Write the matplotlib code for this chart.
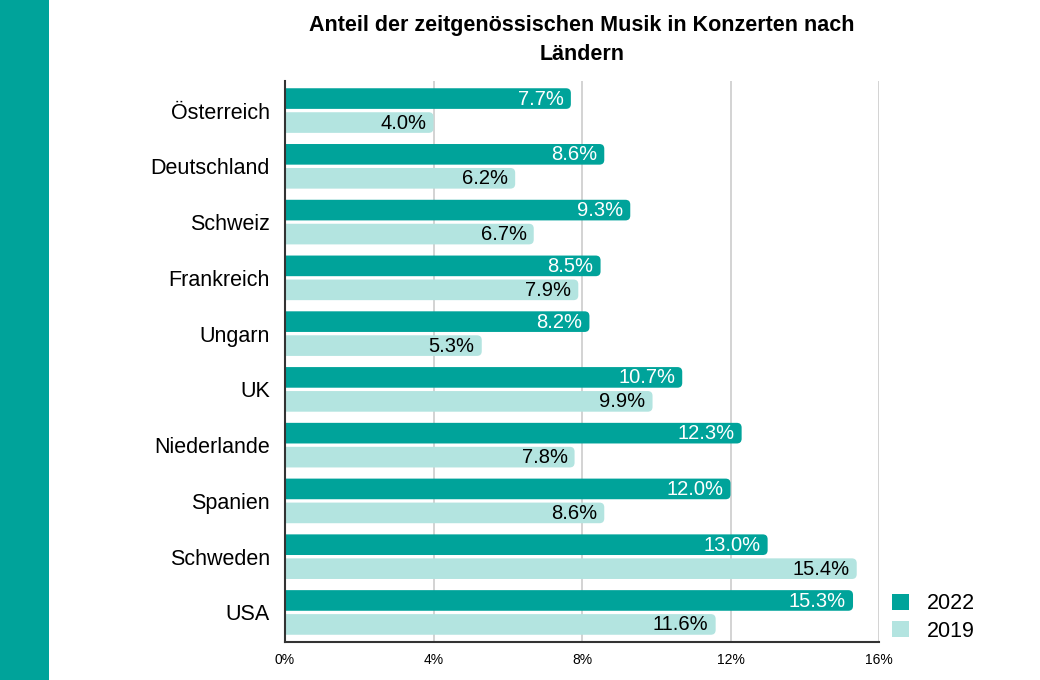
import matplotlib.pyplot as plt
from matplotlib.patches import FancyBboxPatch, Rectangle

plt.rcParams['font.family'] = ['Liberation Sans', 'DejaVu Sans']

# Daten
laender = ["Österreich", "Deutschland", "Schweiz", "Frankreich", "Ungarn",
           "UK", "Niederlande", "Spanien", "Schweden", "USA"]
werte_2022 = [7.7, 8.6, 9.3, 8.5, 8.2, 10.7, 12.3, 12.0, 13.0, 15.3]
werte_2019 = [4.0, 6.2, 6.7, 7.9, 5.3, 9.9, 7.8, 8.6, 15.4, 11.6]
x_ticks = [0, 4, 8, 12, 16]

farbe_2022 = "#00A39A"
farbe_2019 = "#B3E4E0"

fig = plt.figure(figsize=(10.4, 6.8), dpi=100)
fig.patches.append(Rectangle((0, 0), 49 / 1040, 1, transform=fig.transFigure,
                             facecolor=farbe_2022, edgecolor="none", zorder=0))

ax = fig.add_axes([285 / 1040, 38 / 680, 594 / 1040, 561 / 680])
ax.set_xlim(0, 16)
ax.set_ylim(9.53, -0.53)

hoehe = 0.37
versatz = 0.215
# px pro Einheit: x 37.1, y 55.8
aspect = 37.1 / 55.8


def balken(y, wert, farbe, textfarbe):
    p = FancyBboxPatch((-1, y - hoehe / 2), wert + 1, hoehe,
                       boxstyle="round,pad=0,rounding_size=0.13",
                       mutation_aspect=aspect,
                       facecolor=farbe, edgecolor="none", zorder=2)
    ax.add_patch(p)
    ax.text(wert - 0.19, y + 0.01, f"{wert:.1f}%", ha="right", va="center",
            color=textfarbe, fontsize=14.5, zorder=3)


for i in range(len(laender)):
    balken(i - versatz, werte_2022[i], farbe_2022, "white")
    balken(i + versatz, werte_2019[i], farbe_2019, "black")

ax.set_yticks(range(len(laender)))
ax.set_yticklabels(laender, fontsize=15.5)
ax.set_xticks(x_ticks)
ax.set_xticklabels([f"{t}%" for t in x_ticks], fontsize=10)
ax.tick_params(axis="y", length=0, pad=11)
ax.tick_params(axis="x", length=0, pad=8)
for lbl in ax.get_yticklabels():
    lbl.set_y(lbl.get_position()[1])

ax.grid(axis="x", color="#cccccc", linewidth=1.2, zorder=0)
ax.set_axisbelow(True)
for s in ["top", "right"]:
    ax.spines[s].set_visible(False)
ax.spines["left"].set_color("#333333")
ax.spines["left"].set_linewidth(1.5)
ax.spines["bottom"].set_color("#333333")
ax.spines["bottom"].set_linewidth(1.5)

fig.text(582 / 1040, 1 - 40 / 680,
         "Anteil der zeitgenössischen Musik in Konzerten nach\nLändern",
         ha="center", va="center", fontsize=15.5, fontweight="bold",
         linespacing=1.45)

# Legende
handles = [Rectangle((0, 0), 1, 1, facecolor=farbe_2022),
           Rectangle((0, 0), 1, 1, facecolor=farbe_2019)]
fig.legend(handles, ["2022", "2019"], loc="upper left",
           bbox_to_anchor=(873 / 1040, 1 - 574 / 680), frameon=False,
           fontsize=15.5, handlelength=0.75, handleheight=0.75,
           handletextpad=0.85, labelspacing=0.3)

fig.savefig("out.png", dpi=100, facecolor="white")
